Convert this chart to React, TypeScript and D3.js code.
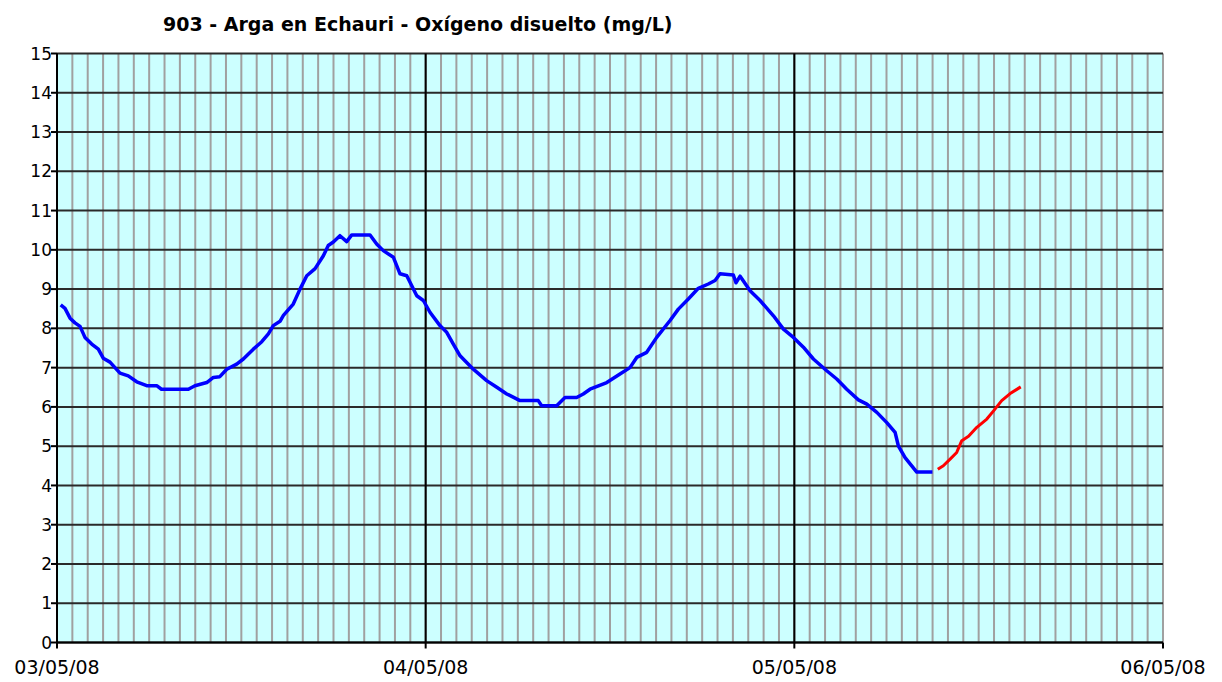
import React from "react";
import * as d3 from "d3";

// Oxígeno disuelto, estación 903 (horas desde 03/05/08 00:00)
const blueHours = [
  0.24, 0.52, 0.85, 1.17, 1.5, 1.82, 2.26, 2.69, 3.01, 3.45, 4.1, 4.64, 5.19,
  5.84, 6.49, 6.8, 8.55, 8.98, 9.75, 10.18, 10.6, 11.05, 11.7, 12.13, 12.78,
  13.33, 13.76, 14.08, 14.52, 14.74, 15.38, 15.82, 16.26, 16.8, 17.34, 17.66,
  17.99, 18.42, 18.86, 19.19, 20.38, 20.81, 21.24, 21.9, 22.33, 22.77, 23.42,
  23.85, 24.28, 24.93, 25.37, 25.8, 26.24, 27.1, 27.97, 28.63, 29.28, 30.14,
  31.33, 31.55, 32.53, 33.07, 33.83, 34.26, 34.7, 35.79, 36.65, 37.3, 37.74,
  38.39, 39.04, 39.91, 40.45, 41.1, 41.75, 42.4, 42.84, 43.16, 44.03, 44.2,
  44.47, 45.12, 45.77, 46.64, 47.29, 47.94, 48.59, 49.24, 50.11, 50.76, 51.41,
  52.17, 52.72, 53.37, 54.02, 54.56, 54.77, 55.21, 55.97, 56.99,
];
const blueValues = [
  8.6, 8.51, 8.26, 8.14, 8.05, 7.77, 7.6, 7.47, 7.24, 7.14, 6.86, 6.79, 6.64,
  6.54, 6.54, 6.45, 6.45, 6.54, 6.62, 6.75, 6.77, 6.96, 7.09, 7.22, 7.47, 7.66,
  7.86, 8.07, 8.18, 8.33, 8.62, 9.0, 9.34, 9.52, 9.85, 10.11, 10.2, 10.36,
  10.21, 10.38, 10.38, 10.15, 9.98, 9.81, 9.39, 9.34, 8.83, 8.71, 8.41, 8.07,
  7.9, 7.6, 7.3, 6.96, 6.67, 6.5, 6.33, 6.16, 6.16, 6.03, 6.03, 6.24, 6.24,
  6.33, 6.45, 6.62, 6.84, 7.0, 7.26, 7.39, 7.77, 8.2, 8.49, 8.75, 9.02, 9.13,
  9.22, 9.39, 9.36, 9.16, 9.33, 8.96, 8.71, 8.32, 7.98, 7.77, 7.52, 7.22, 6.92,
  6.71, 6.45, 6.18, 6.07, 5.86, 5.6, 5.35, 5.01, 4.71, 4.34, 4.34,
];
// tramo en rojo (datos provisionales)
const redHours = [
  57.34, 57.7, 58.14, 58.57, 58.9, 59.34, 59.88, 60.53, 60.97, 61.5, 62.05,
  62.74,
];
const redValues = [
  4.41, 4.5, 4.67, 4.84, 5.14, 5.25, 5.48, 5.69, 5.9, 6.16, 6.34, 6.51,
];

const dayLabels = ["03/05/08", "04/05/08", "05/05/08", "06/05/08"];
const yTicks = d3.range(0, 16);
const title = "903 - Arga en Echauri - Oxígeno disuelto (mg/L)";

const width = 1222;
const height = 682;
const left = 57;
const right = 1163;
const top = 53.5;
const bottom = 642.5;

const start = new Date(2008, 4, 3);
const toDate = (h: number) => new Date(start.getTime() + h * 3600 * 1000);

export default function App() {
  const x = d3
    .scaleTime()
    .domain([start, d3.timeDay.offset(start, 3)])
    .range([left, right]);
  const y = d3.scaleLinear().domain([0, 15]).range([bottom, top]);

  const hours = d3.timeHour.range(start, d3.timeHour.offset(d3.timeDay.offset(start, 3), 1));
  const days = d3.timeDay.range(start, d3.timeDay.offset(start, 4));

  const line = d3
    .line<[number, number]>()
    .x((d) => x(toDate(d[0])))
    .y((d) => y(d[1]));

  const bluePts = blueHours.map((h, i) => [h, blueValues[i]] as [number, number]);
  const redPts = redHours.map((h, i) => [h, redValues[i]] as [number, number]);

  const font = "Tahoma, 'DejaVu Sans', sans-serif";

  return (
    <div style={{ position: "fixed", left: 0, top: 0 }}>
      <svg width={width} height={height} style={{ display: "block", background: "#fff" }}>
        <text x={163} y={31} fontFamily={font} fontWeight="bold" fontSize={19} fill="#000">
          {title}
        </text>

        <rect x={left} y={top} width={right - left} height={bottom - top} fill="#CCFFFF" />

        {/* hourly lines */}
        {hours.map((h, i) => (
          <line
            key={"h" + i}
            x1={x(h)}
            x2={x(h)}
            y1={top}
            y2={bottom}
            stroke="#a0a0a0"
            strokeWidth={2}
          />
        ))}

        {/* horizontal grid */}
        {yTicks.map((t) => (
          <line
            key={"g" + t}
            x1={left}
            x2={right}
            y1={y(t)}
            y2={y(t)}
            stroke="#2a2a2a"
            strokeWidth={2}
          />
        ))}

        {/* day lines */}
        {days.slice(0, 3).map((d, i) => (
          <line
            key={"d" + i}
            x1={x(d)}
            x2={x(d)}
            y1={top}
            y2={bottom}
            stroke="#000"
            strokeWidth={2}
          />
        ))}

        <line x1={left} x2={left} y1={top} y2={bottom} stroke="#000" strokeWidth={2} />
        <line x1={left} x2={right} y1={bottom} y2={bottom} stroke="#000" strokeWidth={2} />

        {/* y axis ticks and labels */}
        {yTicks.map((t) => (
          <g key={"yt" + t}>
            <line x1={left - 6} x2={left} y1={y(t)} y2={y(t)} stroke="#000" strokeWidth={2} />
            <text
              x={left - 5}
              y={y(t)}
              dy="0.36em"
              textAnchor="end"
              fontFamily={font}
              fontSize={17}
              fill="#000"
            >
              {t}
            </text>
          </g>
        ))}

        {/* x axis ticks and labels */}
        {days.map((d, i) => (
          <g key={"xt" + i}>
            <line x1={x(d)} x2={x(d)} y1={bottom} y2={bottom + 6} stroke="#000" strokeWidth={2} />
            <text
              x={x(d)}
              y={674}
              textAnchor="middle"
              fontFamily={font}
              fontSize={19}
              fill="#000"
            >
              {dayLabels[i]}
            </text>
          </g>
        ))}

        <path d={line(bluePts) || ""} fill="none" stroke="#0000FF" strokeWidth={3.5} strokeLinejoin="round" />
        <path d={line(redPts) || ""} fill="none" stroke="#FF0000" strokeWidth={3} strokeLinejoin="round" />
      </svg>
    </div>
  );
}
